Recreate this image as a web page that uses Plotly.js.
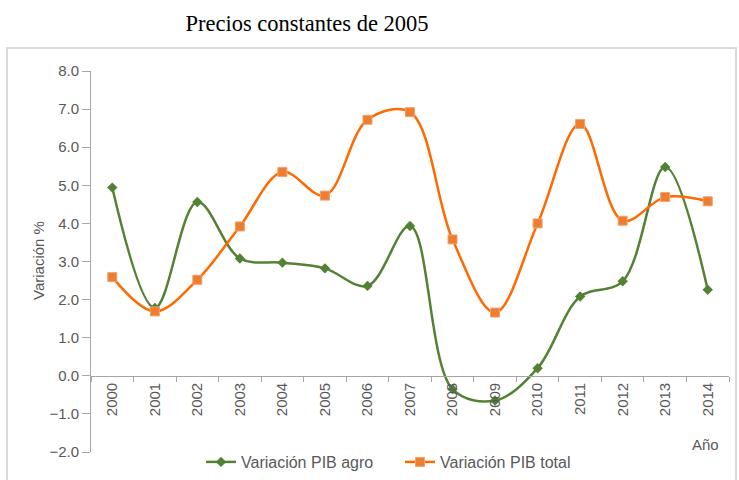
<!DOCTYPE html>
<html>
<head>
<meta charset="utf-8">
<script src="https://cdn.plot.ly/plotly-3.0.1.min.js"></script>
<style>
  html, body { margin: 0; padding: 0; background: #ffffff; }
  #chart { width: 739px; height: 480px; }
</style>
</head>
<body>
<div id="chart"></div>
<script>
const years = ['2000','2001','2002','2003','2004','2005','2006','2007','2008','2009','2010','2011','2012','2013','2014'];
const pibAgro = [4.94, 1.78, 4.56, 3.08, 2.97, 2.82, 2.36, 3.93, -0.35, -0.65, 0.20, 2.08, 2.48, 5.48, 2.26];
const pibTotal = [2.59, 1.69, 2.52, 3.92, 5.35, 4.73, 6.72, 6.92, 3.58, 1.66, 4.00, 6.61, 4.07, 4.69, 4.58];
const yTickVals = [-2, -1, 0, 1, 2, 3, 4, 5, 6, 7, 8];

const W = 739, H = 480;
const L = 91, R = 729, T = 71, B = 452;
const px = x => (x - L) / (R - L);
const py = y => (B - y) / (B - T);

const font = "'Liberation Sans', Arial, sans-serif";
const grayText = '#595959';
const axisGray = '#A6A6A6';

const traces = [
  {
    x: years, y: pibAgro, name: 'Variación PIB agro', type: 'scatter', mode: 'lines+markers',
    line: { color: '#548235', width: 2.5, shape: 'spline', smoothing: 1 },
    marker: { symbol: 'diamond', size: 8, color: '#548235' },
    cliponaxis: false
  },
  {
    x: years, y: pibTotal, name: 'Variación PIB total', type: 'scatter', mode: 'lines+markers',
    line: { color: '#FF6A00', width: 2.5, shape: 'spline', smoothing: 1 },
    marker: { symbol: 'square', size: 9, color: '#ED7D31', line: { color: '#F4A06A', width: 1 } },
    cliponaxis: false
  }
];

const layout = {
  width: W, height: H,
  margin: { l: L, r: W - R, t: T, b: H - B, pad: 0, autoexpand: false },
  paper_bgcolor: '#ffffff', plot_bgcolor: 'rgba(0,0,0,0)',
  font: { family: font, size: 15, color: grayText },
  title: {
    text: 'Precios constantes de 2005',
    font: { family: "'Liberation Serif', 'Times New Roman', serif", size: 22.5, color: '#000000' },
    xref: 'container', x: 307 / W, xanchor: 'center',
    yref: 'container', y: 1 - 23 / H, yanchor: 'middle'
  },
  xaxis: {
    type: 'category', range: [-0.5, 14.5],
    anchor: 'free', position: 0.2,
    showline: true, linecolor: axisGray, linewidth: 1,
    ticks: 'outside', tickson: 'boundaries', ticklen: 5, tickcolor: axisGray,
    tickangle: -90, tickfont: { family: font, size: 15, color: grayText },
    showgrid: false, zeroline: false, fixedrange: true, automargin: false
  },
  yaxis: {
    range: [-2, 8], tickvals: yTickVals, tickformat: '.1f',
    showline: true, linecolor: axisGray, linewidth: 1,
    ticks: 'outside', ticklen: 8, tickcolor: axisGray,
    tickfont: { family: font, size: 15, color: grayText },
    showgrid: false, zeroline: false, fixedrange: true, automargin: false
  },
  showlegend: true,
  legend: {
    orientation: 'h', x: px(400), xanchor: 'center', y: py(462), yanchor: 'middle',
    font: { family: font, size: 16, color: grayText }, bgcolor: 'rgba(0,0,0,0)',
    itemwidth: 30, tracegroupgap: 0, entrywidth: 154, entrywidthmode: 'pixels'
  },
  annotations: [
    { text: 'Año', xref: 'paper', yref: 'paper', x: px(705), y: py(444), xanchor: 'center', yanchor: 'middle',
      showarrow: false, font: { family: font, size: 15, color: grayText } },
    { text: 'Variación %', xref: 'paper', yref: 'paper', x: px(38), y: py(261), xanchor: 'center', yanchor: 'middle',
      textangle: -90, showarrow: false, font: { family: font, size: 15, color: grayText } }
  ],
  shapes: [
    { type: 'rect', xref: 'paper', yref: 'paper', x0: px(7), x1: px(736), y0: py(484), y1: py(48),
      line: { color: '#D9D9D9', width: 2 }, fillcolor: 'rgba(0,0,0,0)', layer: 'below' }
  ]
};

Plotly.newPlot('chart', traces, layout, { displayModeBar: false, staticPlot: true });
</script>
</body>
</html>
